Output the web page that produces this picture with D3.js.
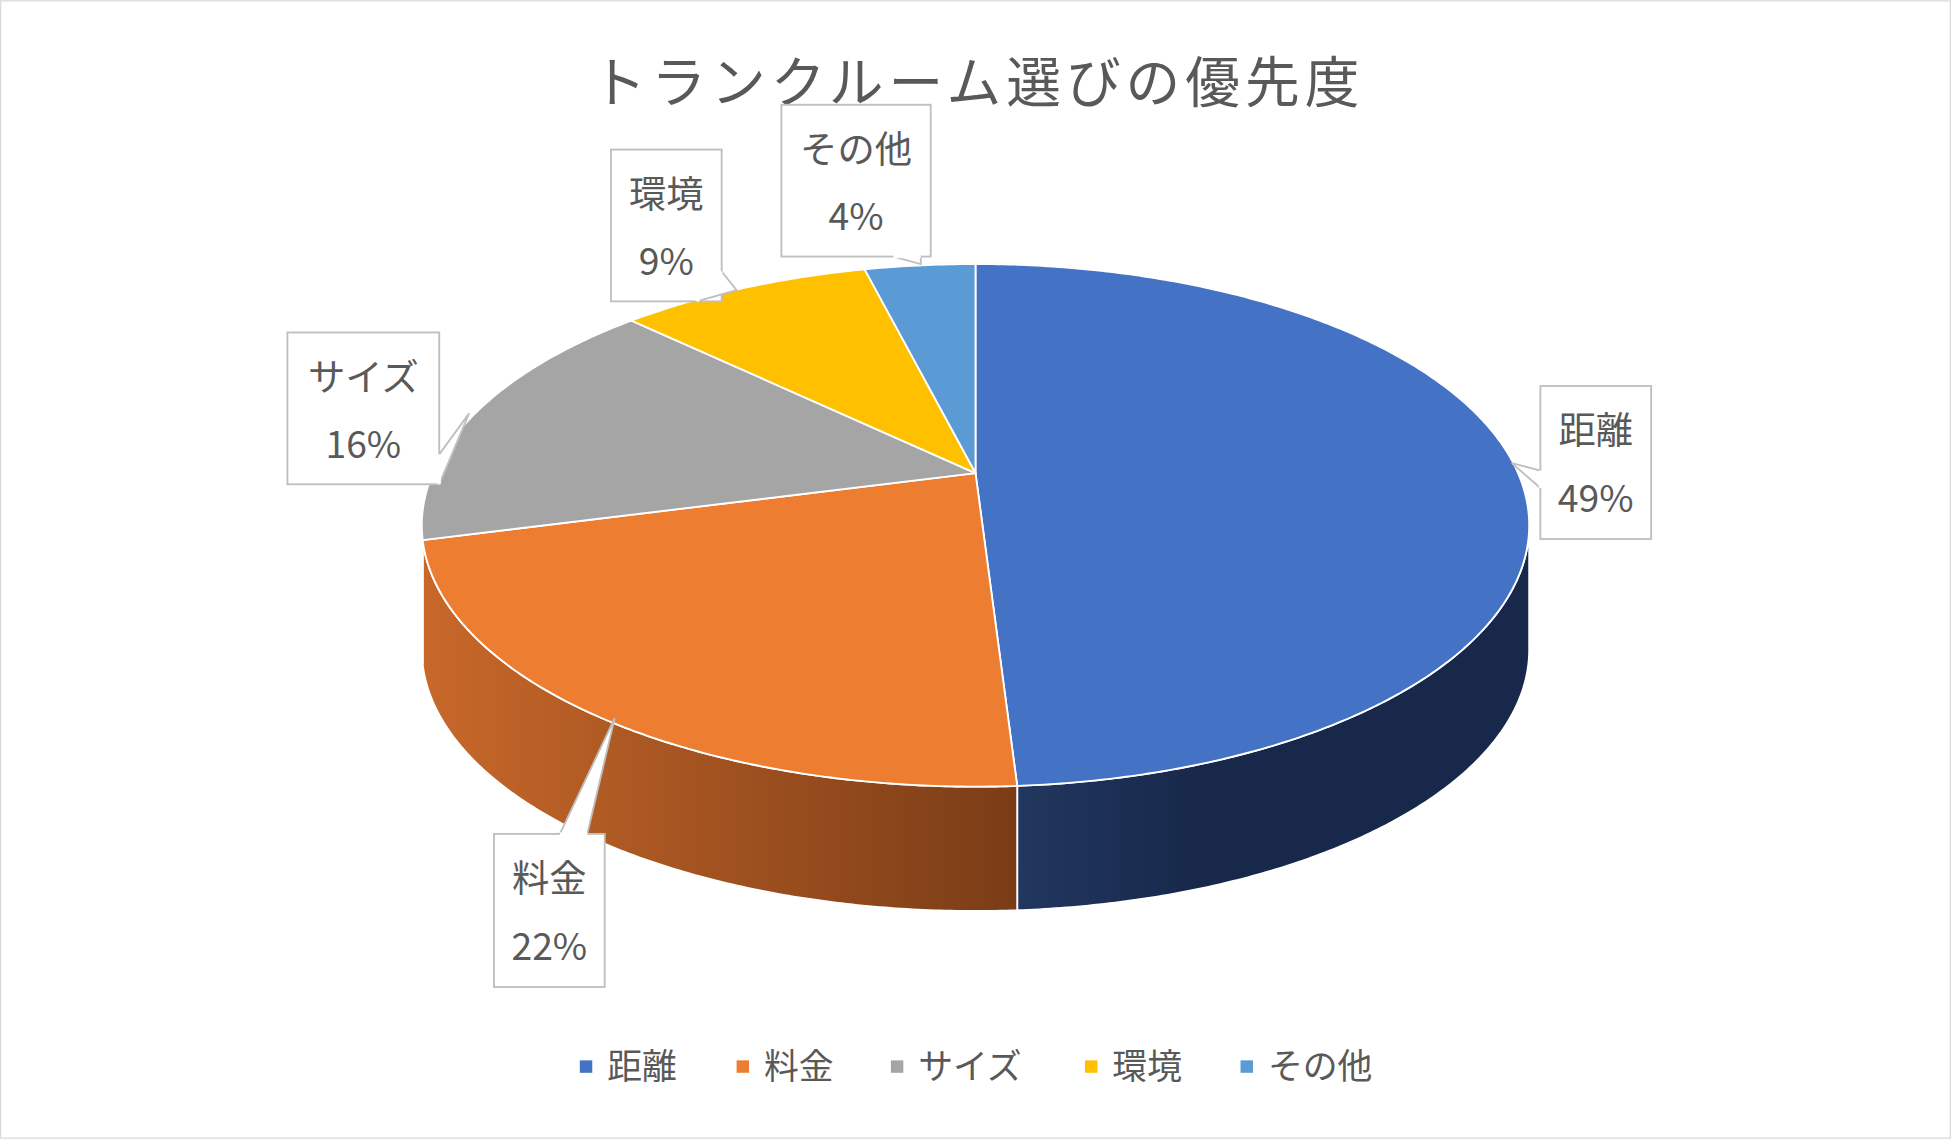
<!DOCTYPE html>
<html><head><meta charset="utf-8">
<script src="https://cdn.jsdelivr.net/npm/d3@7"></script>
<style>body{margin:0;background:#fff}text{font-family:"Noto Sans CJK JP",sans-serif;fill:#595959}</style>
</head><body>
<svg id="c" width="1951" height="1139" viewBox="0 0 1568 915"></svg>
<script>
var categories = ["距離", "料金", "サイズ", "環境", "その他"];
var values = [49, 22, 16, 9, 4];
var colors = ["#4472c4", "#ed7d31", "#a5a5a5", "#ffc000", "#5b9bd5"];
var sideDark = [["#22375f", "#17284a"], ["#c8682a", "#7a3c16"], ["#8a8a8a", "#666"], ["#c89600", "#a07800"], ["#3f77aa", "#2d5a85"]];
// label boxes: x, y, w, h, tail target and tail base points
var boxes = [
  {x:1238, y:310, w:89, h:123, tip:[1215,372], b1:[1238,378], b2:[1238,392]},
  {x:397, y:670, w:89, h:123, tip:[494,577], b1:[450,670], b2:[472,670]},
  {x:231, y:267, w:122, h:122, tip:[377,332], b1:[353,365], b2:[353,389]},
  {x:491, y:120, w:89, h:122, tip:[592,233], b1:[580,218], b2:[560,242]},
  {x:628, y:84, w:120, h:122, tip:[740,212], b1:[718,206], b2:[740,206]}
];

var svg = d3.select("#c");
svg.append("rect").attr("x",0.5).attr("y",0.5).attr("width",1567).attr("height",914)
  .attr("fill","#fff").attr("stroke","#d9d9d9");

svg.append("text").attr("x",786).attr("y",82).attr("text-anchor","middle")
  .attr("font-size",44).attr("letter-spacing",4).text("トランクルーム選びの優先度");

var cx = 784, cy = 422, rx = 445, ry = 210, depth = 100, apex = [784, 380];
var ang = d3.scaleLinear().domain([0, d3.sum(values)]).range([0, 2 * Math.PI]);
function pt(t, dy) { return [cx + rx * Math.sin(t), cy - ry * Math.cos(t) + (dy || 0)]; }
// project a true angle: ray from apex, flattened, hitting the ellipse -> parametric angle
function proj(th) {
  var dx = Math.sin(th), dy = -Math.cos(th) * ry / rx;
  var ax = (apex[0] - cx) / rx, ay = (apex[1] - cy) / ry, ux = dx / rx, uy = dy / ry;
  var A = ux * ux + uy * uy, B = 2 * (ax * ux + ay * uy), C = ax * ax + ay * ay - 1;
  var s = (-B + Math.sqrt(B * B - 4 * A * C)) / (2 * A);
  var px = ax + s * ux, py = ay + s * uy;
  var t = Math.atan2(px, -py);
  if (t < 0) t += 2 * Math.PI;
  if (th >= 2 * Math.PI - 1e-9) t = 2 * Math.PI;
  return t;
}
function arcPts(a0, a1, dy) {
  var n = Math.max(2, Math.ceil((a1 - a0) / 0.01)), p = [];
  for (var i = 0; i <= n; i++) p.push(pt(a0 + (a1 - a0) * i / n, dy));
  return p;
}
var slices = [], acc = 0;
values.forEach(function(v, i) { slices.push({i:i, a0:proj(ang(acc)), a1:proj(ang(acc + v))}); acc += v; });
slices[0].a0 = 0;

var defs = svg.append("defs");
var line = d3.line();
slices.forEach(function(s) {
  var a0 = Math.max(s.a0, Math.PI / 2), a1 = Math.min(s.a1, 3 * Math.PI / 2);
  if (a1 <= a0) return;
  var top = arcPts(a0, a1, 0), bot = arcPts(a0, a1, depth).reverse();
  var xs = top.map(function(p){return p[0];});
  var g = defs.append("linearGradient").attr("id","g"+s.i).attr("gradientUnits","userSpaceOnUse")
    .attr("x1",d3.min(xs)).attr("x2",d3.max(xs)).attr("y1",0).attr("y2",0);
  var c = sideDark[s.i];
  g.append("stop").attr("offset",0).attr("stop-color",c[0]);
  if (s.i === 0) g.append("stop").attr("offset",0.35).attr("stop-color",c[1]);
  g.append("stop").attr("offset",1).attr("stop-color",c[1]);
  svg.append("path").attr("d", line(top.concat(bot)) + "Z").attr("fill","url(#g"+s.i+")")
    .attr("stroke","#fff").attr("stroke-width",1.5);
});
slices.forEach(function(s) {
  var p = [apex].concat(arcPts(s.a0, s.a1, 0));
  svg.append("path").attr("d", line(p) + "Z").attr("fill", colors[s.i])
    .attr("stroke","#fff").attr("stroke-width",1.5).attr("stroke-linejoin","round");
});

boxes.forEach(function(b, i) {
  var g = svg.append("g");
  g.append("rect").attr("x",b.x).attr("y",b.y).attr("width",b.w).attr("height",b.h)
    .attr("fill","#fff").attr("stroke","#bfbfbf").attr("stroke-width",1.5);
  g.append("path").attr("d", line([b.b1, b.tip, b.b2])).attr("fill","#fff")
    .attr("stroke","#bfbfbf").attr("stroke-width",1.5);
  g.append("line").attr("x1",b.b1[0]).attr("y1",b.b1[1]).attr("x2",b.b2[0]).attr("y2",b.b2[1])
    .attr("stroke","#fff").attr("stroke-width",2.5);
  var mx = b.x + b.w / 2;
  g.append("text").attr("x",mx).attr("y",b.y + 47).attr("text-anchor","middle").attr("font-size",30).text(categories[i]);
  g.append("text").attr("x",mx).attr("y",b.y + 101).attr("text-anchor","middle").attr("font-size",30).text(values[i] + "%");
});

var lx = [466, 592, 716, 872, 997];
categories.forEach(function(c, i) {
  svg.append("rect").attr("x",lx[i]).attr("y",852).attr("width",10).attr("height",10).attr("fill",colors[i]);
  svg.append("text").attr("x",lx[i] + 22).attr("y",867).attr("font-size",28).text(c);
});
</script>
</body></html>
